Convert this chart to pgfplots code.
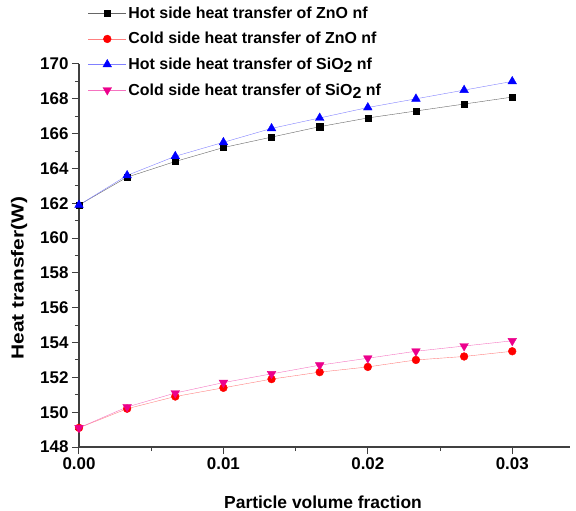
\documentclass[border=0pt]{standalone}
\usepackage{pgfplots}
\pgfplotsset{compat=1.18}
\usepackage{fontspec}
\setmainfont{Liberation Sans}
\newcommand\lf{\fontsize{16}{18}\selectfont\bfseries}
\begin{document}
\begin{tikzpicture}[x=1bp,y=1bp]
\begin{axis}[
    scale only axis,
    width=491bp, height=383bp,
    axis lines*=left,
    axis line style={line width=1.3bp, black!75},
    xmin=0, xmax=0.034,
    ymin=148, ymax=170,
    xtick={0,0.01,0.02,0.03},
    ytick={148,150,...,170},
    minor x tick num=1,
    minor y tick num=1,
    tick align=outside,
    major tick length=7bp, minor tick length=4bp,
    tick style={line width=1bp, black!75},
    xticklabel style={/pgf/number format/.cd, fixed, fixed zerofill, precision=2},
    scaled x ticks=false,
    /pgf/number format/assume math mode=true,
    ticklabel style={font=\fontsize{17}{19}\selectfont\bfseries},
    xlabel={Particle volume fraction},
    ylabel={\scalebox{1.2}[1]{Heat transfer(W)}},
    every axis x label/.style={at={(axis description cs:0.497,-0.145)}, anchor=center,
        font=\fontsize{17.5}{19}\selectfont\bfseries},
    every axis y label/.style={at={(axis description cs:-0.122,0.441)}, rotate=90, anchor=center,
        font=\fontsize{17.5}{19}\selectfont\bfseries},
    legend style={draw=none, fill=none, at={(axis description cs:0.012,1.16)}, anchor=north west,
        font=\lf, row sep=8.5bp,
        /tikz/every even column/.style={column sep=9bp}},
    legend cell align=left,
    legend image code/.code={\draw[mark repeat=2,mark phase=2,#1] plot coordinates {(0bp,0bp) (19bp,0bp) (38bp,0bp)};},
    clip=false,
]
\addplot[black!60, mark=square*, mark size=3.1bp, mark options={fill=black, draw=black}] coordinates {
(0,161.9) (0.003333,163.5) (0.006667,164.4) (0.01,165.2) (0.013333,165.8)
(0.016667,166.4) (0.02,166.9) (0.023333,167.3) (0.026667,167.7) (0.03,168.1)};
\addlegendentry{\lf Hot side heat transfer of ZnO nf}
\addplot[red!50, mark=*, mark size=3.9bp, mark options={fill=red, draw=red}] coordinates {
(0,149.1) (0.003333,150.2) (0.006667,150.9) (0.01,151.4) (0.013333,151.9)
(0.016667,152.3) (0.02,152.6) (0.023333,153.0) (0.026667,153.2) (0.03,153.5)};
\addlegendentry{\lf Cold side heat transfer of ZnO nf}
\addplot[blue!50, mark=triangle*, mark size=5bp, mark options={fill=blue, draw=blue}] coordinates {
(0,161.9) (0.003333,163.6) (0.006667,164.7) (0.01,165.5) (0.013333,166.3)
(0.016667,166.9) (0.02,167.5) (0.023333,168.0) (0.026667,168.5) (0.03,169.0)};
\addlegendentry{\lf Hot side heat transfer of SiO\raisebox{-0.4ex}{2} nf\rule[-7bp]{0pt}{1bp}}
\addplot[magenta!55, mark=triangle*, mark size=5bp, mark options={fill=magenta, draw=magenta, rotate=180}] coordinates {
(0,149.1) (0.003333,150.3) (0.006667,151.1) (0.01,151.7) (0.013333,152.2)
(0.016667,152.7) (0.02,153.1) (0.023333,153.5) (0.026667,153.8) (0.03,154.1)};
\addlegendentry{\lf Cold side heat transfer of SiO\raisebox{-0.4ex}{2} nf}
\coordinate (o) at (rel axis cs:0,0);
\end{axis}
\pgfresetboundingbox
\path ([shift={(-79bp,-64bp)}]o) rectangle ([shift={(497bp,447bp)}]o);
\end{tikzpicture}
\end{document}
